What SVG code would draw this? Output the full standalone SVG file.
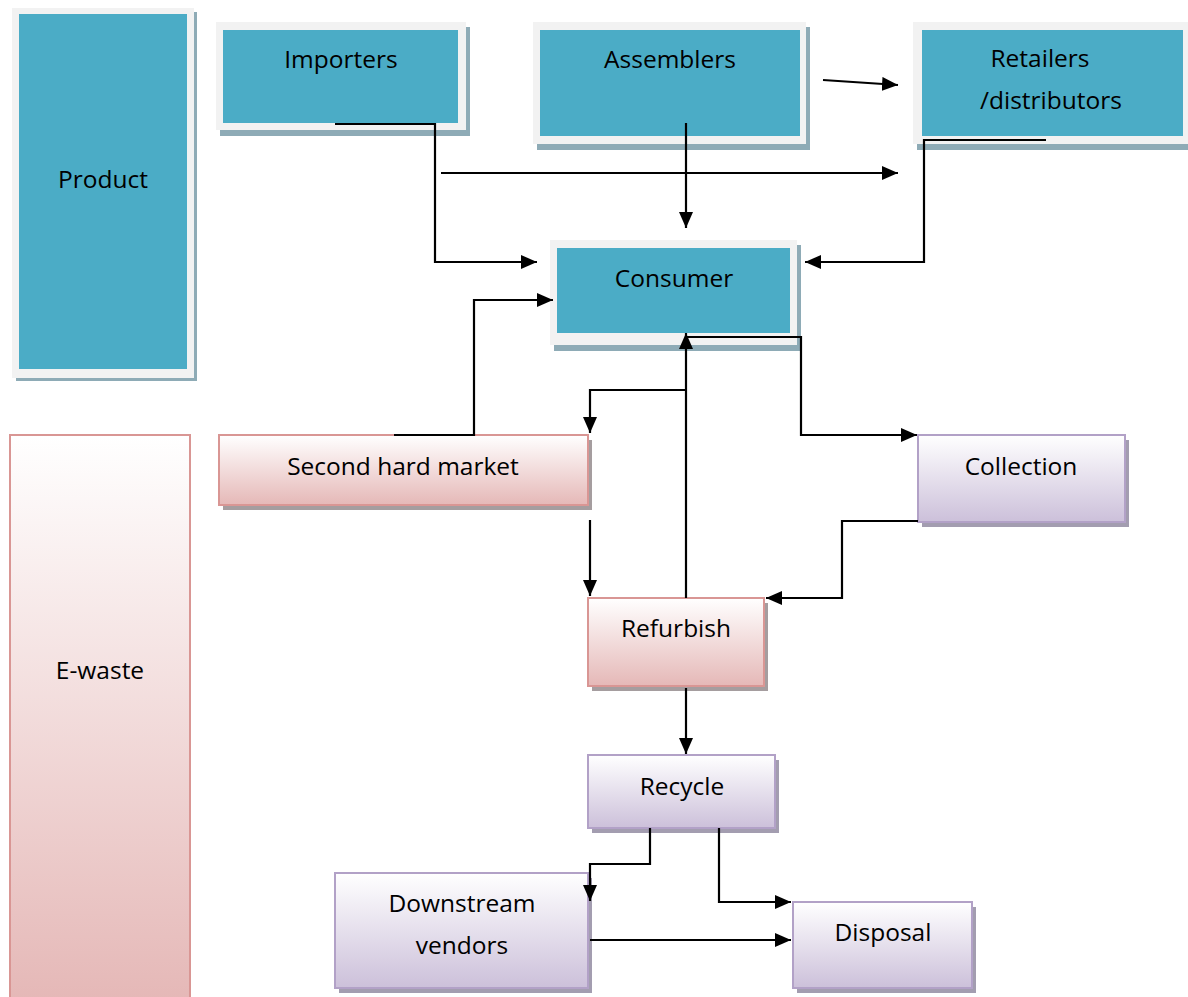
<svg xmlns="http://www.w3.org/2000/svg" width="1188" height="997" viewBox="0 0 1188 997">
<defs>
<linearGradient id="gPink" x1="0" y1="0" x2="0" y2="1"><stop offset="0" stop-color="#ffffff"/><stop offset="1" stop-color="#e5b8b7"/></linearGradient>
<linearGradient id="gPurple" x1="0" y1="0" x2="0" y2="1"><stop offset="0" stop-color="#ffffff"/><stop offset="1" stop-color="#ccc0da"/></linearGradient>
<marker id="ah" viewBox="0 0 16 14" refX="16" refY="7" markerWidth="16" markerHeight="14" markerUnits="userSpaceOnUse" orient="auto"><path d="M0,0 L16,7 L0,14 Z" fill="#000"/></marker>
</defs>
<style>
.frame{fill:#f2f2f2}
.teal{fill:#4bacc6}
.tshadow{fill:#8eabb6}
.pink{fill:url(#gPink);stroke:#d99694;stroke-width:2}
.purple{fill:url(#gPurple);stroke:#b2a1c7;stroke-width:2}
.bshadow{fill:#a59d9f}
.pshadow{fill:#a39db0}
text{font-family:"Open Sans","Liberation Sans",sans-serif;font-size:24.5px;fill:#000;text-anchor:middle}
.conn path{fill:none;stroke:#000;stroke-width:2.2}
</style>
<rect width="1188" height="997" fill="#fff"/>

<g id="product">
<rect class="tshadow" x="16" y="12" width="181" height="369"/>
<rect class="frame" x="12" y="8" width="182" height="370"/>
<rect class="teal" x="19" y="14" width="168" height="355"/>
<text x="103" y="188">Product</text>
</g>

<g id="importers">
<rect class="tshadow" x="220" y="27" width="250" height="109"/>
<rect class="frame" x="216" y="22" width="250" height="108"/>
<rect class="teal" x="223" y="30" width="235" height="93"/>
<text x="341" y="68">Importers</text>
</g>

<g id="assemblers">
<rect class="tshadow" x="537" y="27" width="273" height="123"/>
<rect class="frame" x="533" y="22" width="273" height="122"/>
<rect class="teal" x="540" y="30" width="260" height="106"/>
<text x="670" y="68">Assemblers</text>
</g>

<g id="retailers">
<rect class="tshadow" x="917" y="27" width="275" height="123"/>
<rect class="frame" x="913" y="22" width="275" height="122"/>
<rect class="teal" x="922" y="30" width="261" height="106"/>
<text x="1040" y="67">Retailers</text>
<text x="1051" y="109">/distributors</text>
</g>

<g id="consumer">
<rect class="tshadow" x="554" y="245" width="247" height="106"/>
<rect class="frame" x="550" y="240" width="247" height="105"/>
<rect class="teal" x="557" y="248" width="233" height="85"/>
<text x="674" y="287">Consumer</text>
</g>

<g id="ewaste">
<rect class="pink" x="10" y="435" width="180" height="565"/>
<text x="100" y="679">E-waste</text>
</g>

<g id="second-hand">
<rect class="bshadow" x="223" y="440" width="369" height="70"/>
<rect class="pink" x="219" y="435" width="369" height="70"/>
<text x="403" y="475">Second hard market</text>
</g>

<g id="collection">
<rect class="pshadow" x="922" y="440" width="207" height="87"/>
<rect class="purple" x="918" y="435" width="207" height="87"/>
<text x="1021" y="475">Collection</text>
</g>

<g id="refurbish">
<rect class="bshadow" x="592" y="603" width="176" height="88"/>
<rect class="pink" x="588" y="598" width="176" height="88"/>
<text x="676" y="637">Refurbish</text>
</g>

<g id="recycle">
<rect class="pshadow" x="592" y="760" width="187" height="73"/>
<rect class="purple" x="588" y="755" width="187" height="73"/>
<text x="682" y="795">Recycle</text>
</g>

<g id="downstream">
<rect class="pshadow" x="339" y="878" width="253" height="115"/>
<rect class="purple" x="335" y="873" width="253" height="115"/>
<text x="462" y="912">Downstream</text>
<text x="462" y="954">vendors</text>
</g>

<g id="disposal">
<rect class="pshadow" x="797" y="907" width="179" height="86"/>
<rect class="purple" x="793" y="902" width="179" height="86"/>
<text x="883" y="941">Disposal</text>
</g>

<g id="connectors" class="conn">
<path d="M335,124 H435 V262 H537" marker-end="url(#ah)"/>
<path d="M441,173 H898" marker-end="url(#ah)"/>
<path d="M686,123 V228" marker-end="url(#ah)"/>
<path d="M823,80 L898,85" marker-end="url(#ah)"/>
<path d="M1046,140 H924 V262 H805" marker-end="url(#ah)"/>
<path d="M394,435 H474 V300 H553" marker-end="url(#ah)"/>
<path d="M686,598 V333" marker-end="url(#ah)"/>
<path d="M686,337 H801 V435 H917" marker-end="url(#ah)"/>
<path d="M686,390 H590 V433" marker-end="url(#ah)"/>
<path d="M918,521 H842 V598 H766" marker-end="url(#ah)"/>
<path d="M590,520 V596" marker-end="url(#ah)"/>
<path d="M686,688 V754" marker-end="url(#ah)"/>
<path d="M650,828 V864 H590 V901" marker-end="url(#ah)"/>
<path d="M719,828 V902 H791" marker-end="url(#ah)"/>
<path d="M590,940 H791" marker-end="url(#ah)"/>
</g>
</svg>
